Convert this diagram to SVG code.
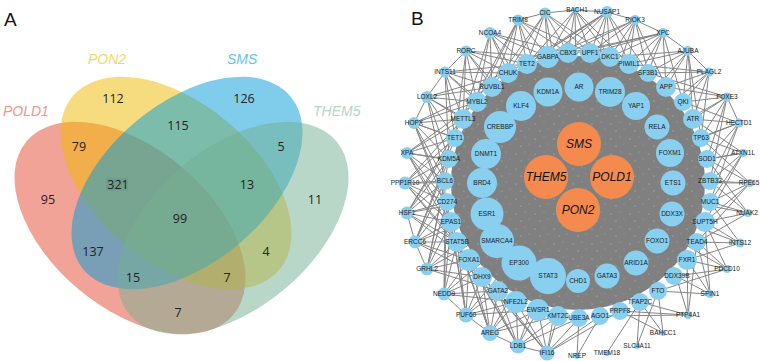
<svg xmlns="http://www.w3.org/2000/svg" width="760" height="361" viewBox="0 0 760 361">
<style>
.pl{font-family:"Liberation Sans",Arial,sans-serif;font-size:19px;fill:#111}
.vl{font-family:"Liberation Sans",Arial,sans-serif;font-size:14px;font-style:italic}
.num{font-family:"Open Sans","Liberation Sans",sans-serif;font-size:12.5px;fill:#222;text-anchor:middle}
.b{fill:#89CFF0}
.o{fill:#F58A4F}
.t{font-family:"Liberation Sans",Arial,sans-serif;font-size:6.5px;fill:#1a1a1a;text-anchor:middle}
.ot{font-family:"Liberation Sans",Arial,sans-serif;font-size:12px;font-style:italic;fill:#111;text-anchor:middle}
.e{stroke:#858585;stroke-width:1;fill:none}
</style>
<defs>
<pattern id="spk" width="19" height="15" patternUnits="userSpaceOnUse">
<rect width="19" height="15" fill="#808080"/>
<circle cx="3" cy="4" r="0.5" fill="#fff" opacity="0.6"/>
<circle cx="12" cy="2" r="0.45" fill="#fff" opacity="0.5"/>
<circle cx="8" cy="11" r="0.5" fill="#fff" opacity="0.6"/>
<circle cx="16" cy="9" r="0.4" fill="#fff" opacity="0.5"/>
</pattern>
</defs>
<rect width="760" height="361" fill="#fff"/>

<!-- Panel A -->
<text class="pl" x="4" y="26">A</text>
<g id="venn">
<ellipse id="set-POLD1" cx="130" cy="228" rx="135" ry="80" transform="rotate(40 130 228)" fill="#E5472F" fill-opacity="0.5"/>
<ellipse id="set-PON2" cx="176" cy="183" rx="135" ry="80" transform="rotate(40 176 183)" fill="#EFBA00" fill-opacity="0.5"/>
<ellipse id="set-SMS" cx="187" cy="183" rx="135" ry="80" transform="rotate(-40 187 183)" fill="#009BD7" fill-opacity="0.5"/>
<ellipse id="set-THEM5" cx="233" cy="228" rx="135" ry="80" transform="rotate(-40 233 228)" fill="#73AF91" fill-opacity="0.5"/>
<rect x="106" y="178" width="22" height="13" fill="#6A968A" opacity="0.6"/>
</g>
<text class="vl" x="3" y="116" fill="#F1958B">POLD1</text>
<text class="vl" x="88" y="64" fill="#F6D66A">PON2</text>
<text class="vl" x="227" y="64" fill="#5EC4EA">SMS</text>
<text class="vl" x="313" y="116" fill="#B5D6C8">THEM5</text>
<g id="venn-counts">
<text class="num" x="113" y="103">112</text>
<text class="num" x="244" y="103">126</text>
<text class="num" x="178" y="130">115</text>
<text class="num" x="79" y="151">79</text>
<text class="num" x="281" y="151">5</text>
<text class="num" x="118" y="189">321</text>
<text class="num" x="247" y="189">13</text>
<text class="num" x="48" y="204">95</text>
<text class="num" x="315" y="204">11</text>
<text class="num" x="180" y="223">99</text>
<text class="num" x="93" y="256">137</text>
<text class="num" x="266" y="256">4</text>
<text class="num" x="133" y="282">15</text>
<text class="num" x="227" y="282">7</text>
<text class="num" x="178" y="317">7</text>
</g>

<!-- Panel B -->
<text class="pl" x="411" y="25">B</text>
<g id="connectors">
<path class="e" d="M518 20L508 73M518 20L527 64M518 20L548 57M518 20L492 87M518 20L568 53M518 20L590 53M518 20L477 102M518 20L545 13M518 20L578 182M518 20L463 119"/>
<path class="e" d="M545 13L548 57M545 13L568 53M545 13L527 64M545 13L590 53M545 13L610 57M545 13L508 73M545 13L575 10M545 13L578 182M545 13L492 87"/>
<path class="e" d="M575 10L568 53M575 10L548 57M575 10L610 57M575 10L590 53M575 10L629 64M575 10L607 12M575 10L527 64M575 10L578 182"/>
<path class="e" d="M607 12L590 53M607 12L610 57M607 12L629 64M607 12L568 53M607 12L548 57M607 12L527 64M607 12L648 73M607 12L508 73M607 12L635 20M607 12L578 182M607 12L492 87"/>
<path class="e" d="M635 20L610 57M635 20L629 64M635 20L648 73M635 20L666 87M635 20L590 53M635 20L568 53M635 20L663 33M635 20L578 182M635 20L548 57"/>
<path class="e" d="M663 33L629 64M663 33L648 73M663 33L666 87M663 33L683 102M663 33L610 57M663 33L590 53M663 33L548 57M663 33L688 51M663 33L578 182M663 33L527 64"/>
<path class="e" d="M688 51L648 73M688 51L666 87M688 51L683 102M688 51L693 119M688 51L629 64M688 51L610 57M688 51L709 72M688 51L578 182M688 51L701 138"/>
<path class="e" d="M709 72L666 87M709 72L683 102M709 72L693 119M709 72L648 73M709 72L701 138M709 72L578 182M709 72L629 64"/>
<path class="e" d="M727 97L683 102M727 97L693 119M727 97L701 138M727 97L707 159M727 97L666 87M727 97L710 181M727 97L739 123M727 97L578 182M727 97L648 73"/>
<path class="e" d="M739 123L693 119M739 123L701 138M739 123L707 159M739 123L710 181M739 123L683 102M739 123L710 202M739 123L578 182"/>
<path class="e" d="M743 153L701 138M743 153L707 159M743 153L710 181M743 153L710 202M743 153L693 119M743 153L705 222M743 153L578 182"/>
<path class="e" d="M750 183L707 159M750 183L710 181M750 183L710 202M750 183L705 222M750 183L701 138M750 183L697 242M750 183L578 182"/>
<path class="e" d="M748 213L710 181M748 213L710 202M748 213L705 222M748 213L697 242M748 213L707 159M748 213L578 182"/>
<path class="e" d="M740 243L705 222M740 243L697 242M740 243L687 260M740 243L710 202M740 243L578 182"/>
<path class="e" d="M727 269L687 260M727 269L676 276M727 269L697 242M727 269L658 291M727 269L705 222M727 269L578 182"/>
<path class="e" d="M710 294L687 260M710 294L676 276M710 294L658 291M710 294L697 242M710 294L705 222"/>
<path class="e" d="M688 315L687 260M688 315L676 276M688 315L640 302M688 315L620 311M688 315L600 316M688 315L697 242"/>
<path class="e" d="M663 333L640 302M663 333L658 291M663 333L620 311"/>
<path class="e" d="M637 346L640 302M637 346L658 291"/>
<path class="e" d="M607 353L640 302"/>
<path class="e" d="M577 356L579 318M577 356L600 316"/>
<path class="e" d="M547 353L558 316M547 353L579 318M547 353L600 316M547 353L538 310M547 353L516 302M547 353L498 291M547 353L482 277M547 353L518 346M547 353L578 182M547 353L620 311M547 353L469 260"/>
<path class="e" d="M518 346L538 310M518 346L516 302M518 346L498 291M518 346L558 316M518 346L482 277M518 346L469 260M518 346L579 318M518 346L490 333M518 346L578 182M518 346L457 242"/>
<path class="e" d="M490 333L498 291M490 333L516 302M490 333L482 277M490 333L469 260M490 333L538 310M490 333L457 242M490 333L466 315M490 333L578 182M490 333L558 316M490 333L451 222"/>
<path class="e" d="M466 315L482 277M466 315L469 260M466 315L498 291M466 315L457 242M466 315L451 222M466 315L516 302M466 315L444 294M466 315L578 182M466 315L538 310M466 315L447 202"/>
<path class="e" d="M444 294L469 260M444 294L457 242M444 294L451 222M444 294L482 277M444 294L447 202M444 294L498 291M444 294L578 182M444 294L516 302M444 294L445 181"/>
<path class="e" d="M427 269L457 242M427 269L451 222M427 269L469 260M427 269L447 202M427 269L445 181M427 269L482 277M427 269L415 242M427 269L578 182M427 269L498 291M427 269L449 159"/>
<path class="e" d="M415 242L451 222M415 242L447 202M415 242L457 242M415 242L445 181M415 242L469 260M415 242L449 159M415 242L407 213M415 242L578 182M415 242L482 277M415 242L455 138"/>
<path class="e" d="M407 213L447 202M407 213L445 181M407 213L451 222M407 213L449 159M407 213L457 242M407 213L455 138M407 213L469 260M407 213L578 182M407 213L463 119"/>
<path class="e" d="M405 183L445 181M405 183L449 159M405 183L447 202M405 183L455 138M405 183L451 222M405 183L463 119M405 183L457 242M405 183L578 182M405 183L469 260"/>
<path class="e" d="M407 153L449 159M407 153L455 138M407 153L445 181M407 153L463 119M407 153L447 202M407 153L477 102M407 153L578 182M407 153L451 222M407 153L457 242"/>
<path class="e" d="M414 123L455 138M414 123L463 119M414 123L449 159M414 123L477 102M414 123L445 181M414 123L492 87M414 123L578 182M414 123L447 202M414 123L451 222"/>
<path class="e" d="M427 97L463 119M427 97L477 102M427 97L455 138M427 97L492 87M427 97L449 159M427 97L508 73M427 97L414 123M427 97L578 182M427 97L445 181"/>
<path class="e" d="M445 72L477 102M445 72L492 87M445 72L463 119M445 72L508 73M445 72L455 138M445 72L527 64M445 72L427 97M445 72L578 182M445 72L449 159"/>
<path class="e" d="M466 51L492 87M466 51L508 73M466 51L477 102M466 51L527 64M466 51L463 119M466 51L445 72M466 51L578 182M466 51L548 57M466 51L455 138"/>
<path class="e" d="M490 33L508 73M490 33L527 64M490 33L492 87M490 33L548 57M490 33L477 102M490 33L568 53M490 33L578 182M490 33L463 119"/>
<circle id="edge-mass" cx="578" cy="183" r="127" fill="url(#spk)"/>
</g>

<!-- outer ring -->
<g id="n-TRIM8"><circle class="b" cx="518" cy="20" r="5.5"/><text class="t" x="518" y="22.3">TRIM8</text></g>
<g id="n-CIC"><circle class="b" cx="545" cy="13" r="5.5"/><text class="t" x="545" y="15.3">CIC</text></g>
<g id="n-BACH1"><circle class="b" cx="576" cy="10" r="3"/><text class="t" x="577" y="12">BACH1</text></g>
<g id="n-NUSAP1"><circle class="b" cx="607" cy="12" r="6"/><text class="t" x="607" y="14.3">NUSAP1</text></g>
<g id="n-RIOK3"><circle class="b" cx="635" cy="20" r="5"/><text class="t" x="635" y="22.3">RIOK3</text></g>
<g id="n-XPC"><circle class="b" cx="663" cy="33" r="5"/><text class="t" x="663" y="35.3">XPC</text></g>
<g id="n-AJUBA"><circle class="b" cx="688" cy="51" r="5"/><text class="t" x="688" y="53.3">AJUBA</text></g>
<g id="n-PLAGL2"><circle class="b" cx="709" cy="72" r="4.5"/><text class="t" x="709" y="74.3">PLAGL2</text></g>
<g id="n-FOXE3"><circle class="b" cx="727" cy="97" r="4.5"/><text class="t" x="727" y="99.3">FOXE3</text></g>
<g id="n-HECTD1"><circle class="b" cx="739" cy="123" r="4.5"/><text class="t" x="739" y="125.3">HECTD1</text></g>
<g id="n-ATXN1L"><circle class="b" cx="743" cy="153" r="4"/><text class="t" x="743" y="155.3">ATXN1L</text></g>
<g id="n-RPE65"><circle class="b" cx="750" cy="183" r="4"/><text class="t" x="749" y="185.3">RPE65</text></g>
<g id="n-NUAK2"><circle class="b" cx="748" cy="213" r="4"/><text class="t" x="747" y="215.3">NUAK2</text></g>
<g id="n-INTS12"><circle class="b" cx="740" cy="243" r="4.5"/><text class="t" x="740" y="245.3">INTS12</text></g>
<g id="n-PDCD10"><circle class="b" cx="727" cy="269" r="4"/><text class="t" x="727" y="271.3">PDCD10</text></g>
<g id="n-SPIN1"><circle class="b" cx="710" cy="294" r="4"/><text class="t" x="710" y="296.3">SPIN1</text></g>
<g id="n-PTP4A1"><circle class="b" cx="688" cy="315" r="4"/><text class="t" x="688" y="317.3">PTP4A1</text></g>
<g id="n-BAHCC1"><circle class="b" cx="663" cy="333" r="3"/><text class="t" x="663" y="335.3">BAHCC1</text></g>
<g id="n-SLC4A11"><circle class="b" cx="637" cy="346" r="3"/><text class="t" x="637" y="348.3">SLC4A11</text></g>
<g id="n-TMEM18"><circle class="b" cx="607" cy="353" r="3"/><text class="t" x="607" y="355.3">TMEM18</text></g>
<g id="n-NREP"><circle class="b" cx="577" cy="356" r="3"/><text class="t" x="577" y="358.3">NREP</text></g>
<g id="n-IFI16"><circle class="b" cx="547" cy="353" r="7.5"/><text class="t" x="547" y="355.3">IFI16</text></g>
<g id="n-LDB1"><circle class="b" cx="518" cy="346" r="7.5"/><text class="t" x="518" y="348.3">LDB1</text></g>
<g id="n-AREG"><circle class="b" cx="490" cy="333" r="8"/><text class="t" x="490" y="335.3">AREG</text></g>
<g id="n-PUF60"><circle class="b" cx="466" cy="315" r="7.5"/><text class="t" x="466" y="317.3">PUF60</text></g>
<g id="n-NEDD9"><circle class="b" cx="444" cy="294" r="6.5"/><text class="t" x="444" y="296.3">NEDD9</text></g>
<g id="n-GRHL2"><circle class="b" cx="427" cy="269" r="6.5"/><text class="t" x="427" y="271.3">GRHL2</text></g>
<g id="n-ERCC6"><circle class="b" cx="415" cy="242" r="6.5"/><text class="t" x="415" y="244.3">ERCC6</text></g>
<g id="n-HSF1"><circle class="b" cx="407" cy="213" r="6.5"/><text class="t" x="407" y="215.3">HSF1</text></g>
<g id="n-PPP1R10"><circle class="b" cx="405" cy="183" r="6.5"/><text class="t" x="405" y="185.3">PPP1R10</text></g>
<g id="n-XPA"><circle class="b" cx="407" cy="153" r="6"/><text class="t" x="407" y="155.3">XPA</text></g>
<g id="n-HOPX"><circle class="b" cx="414" cy="123" r="6"/><text class="t" x="414" y="125.3">HOPX</text></g>
<g id="n-LOXL2"><circle class="b" cx="427" cy="97" r="6"/><text class="t" x="427" y="99.3">LOXL2</text></g>
<g id="n-INTS11"><circle class="b" cx="445" cy="72" r="5.5"/><text class="t" x="445" y="74.3">INTS11</text></g>
<g id="n-RORC"><circle class="b" cx="466" cy="51" r="5.5"/><text class="t" x="466" y="53.3">RORC</text></g>
<g id="n-NCOA4"><circle class="b" cx="490" cy="33" r="6"/><text class="t" x="490" y="35.3">NCOA4</text></g>

<!-- middle ring -->
<g id="n-CHUK"><circle class="b" cx="508" cy="73" r="10"/><text class="t" x="508" y="75.3">CHUK</text></g>
<g id="n-TET2"><circle class="b" cx="527" cy="64" r="10"/><text class="t" x="527" y="66.3">TET2</text></g>
<g id="n-GABPA"><circle class="b" cx="548" cy="57" r="11"/><text class="t" x="548" y="59.3">GABPA</text></g>
<g id="n-CBX3"><circle class="b" cx="568" cy="53" r="10"/><text class="t" x="568" y="55.3">CBX3</text></g>
<g id="n-UPF1"><circle class="b" cx="590" cy="53" r="10"/><text class="t" x="590" y="55.3">UPF1</text></g>
<g id="n-DKC1"><circle class="b" cx="610" cy="57" r="10"/><text class="t" x="610" y="59.3">DKC1</text></g>
<g id="n-PIWIL1"><circle class="b" cx="629" cy="64" r="10"/><text class="t" x="629" y="66.3">PIWIL1</text></g>
<g id="n-SF3B1"><circle class="b" cx="648" cy="73" r="9"/><text class="t" x="648" y="75.3">SF3B1</text></g>
<g id="n-APP"><circle class="b" cx="666" cy="87" r="10"/><text class="t" x="666" y="89.3">APP</text></g>
<g id="n-QKI"><circle class="b" cx="683" cy="102" r="9"/><text class="t" x="683" y="104.3">QKI</text></g>
<g id="n-ATR"><circle class="b" cx="693" cy="119" r="10"/><text class="t" x="693" y="121.3">ATR</text></g>
<g id="n-TP63"><circle class="b" cx="701" cy="138" r="9"/><text class="t" x="701" y="140.3">TP63</text></g>
<g id="n-SOD1"><circle class="b" cx="707" cy="159" r="9"/><text class="t" x="707" y="161.3">SOD1</text></g>
<g id="n-ZBTB33"><circle class="b" cx="710" cy="181" r="9"/><text class="t" x="710" y="183.3">ZBTB33</text></g>
<g id="n-MUC1"><circle class="b" cx="710" cy="202" r="9"/><text class="t" x="710" y="204.3">MUC1</text></g>
<g id="n-SUPT5H"><circle class="b" cx="705" cy="222" r="10"/><text class="t" x="705" y="224.3">SUPT5H</text></g>
<g id="n-TEAD4"><circle class="b" cx="697" cy="242" r="9"/><text class="t" x="697" y="244.3">TEAD4</text></g>
<g id="n-FXR1"><circle class="b" cx="687" cy="260" r="10"/><text class="t" x="687" y="262.3">FXR1</text></g>
<g id="n-DDX39B"><circle class="b" cx="674" cy="276" r="9"/><text class="t" x="677" y="278.3">DDX39B</text></g>
<g id="n-FTO"><circle class="b" cx="658" cy="291" r="9"/><text class="t" x="658" y="293.3">FTO</text></g>
<g id="n-TFAP2C"><circle class="b" cx="640" cy="302" r="9"/><text class="t" x="640" y="304.3">TFAP2C</text></g>
<g id="n-PRPF8"><circle class="b" cx="620" cy="311" r="9"/><text class="t" x="620" y="313.3">PRPF8</text></g>
<g id="n-AGO1"><circle class="b" cx="600" cy="316" r="9"/><text class="t" x="600" y="318.3">AGO1</text></g>
<g id="n-UBE3A"><circle class="b" cx="579" cy="318" r="9"/><text class="t" x="579" y="320.3">UBE3A</text></g>
<g id="n-KMT2C"><circle class="b" cx="558" cy="316" r="10"/><text class="t" x="558" y="318.3">KMT2C</text></g>
<g id="n-EWSR1"><circle class="b" cx="538" cy="310" r="11"/><text class="t" x="538" y="312.3">EWSR1</text></g>
<g id="n-NFE2L2"><circle class="b" cx="516" cy="302" r="11"/><text class="t" x="516" y="304.3">NFE2L2</text></g>
<g id="n-GATA2"><circle class="b" cx="498" cy="291" r="10"/><text class="t" x="498" y="293.3">GATA2</text></g>
<g id="n-DHX9"><circle class="b" cx="482" cy="277" r="10"/><text class="t" x="482" y="279.3">DHX9</text></g>
<g id="n-FOXA1"><circle class="b" cx="469" cy="260" r="11"/><text class="t" x="469" y="262.3">FOXA1</text></g>
<g id="n-STAT5B"><circle class="b" cx="457" cy="242" r="10"/><text class="t" x="457" y="244.3">STAT5B</text></g>
<g id="n-EPAS1"><circle class="b" cx="451" cy="222" r="10"/><text class="t" x="451" y="224.3">EPAS1</text></g>
<g id="n-CD274"><circle class="b" cx="447" cy="202" r="9"/><text class="t" x="447" y="204.3">CD274</text></g>
<g id="n-BCL6"><circle class="b" cx="445" cy="181" r="9"/><text class="t" x="445" y="183.3">BCL6</text></g>
<g id="n-KDM5A"><circle class="b" cx="449" cy="159" r="9"/><text class="t" x="449" y="161.3">KDM5A</text></g>
<g id="n-TET1"><circle class="b" cx="455" cy="138" r="9"/><text class="t" x="455" y="140.3">TET1</text></g>
<g id="n-METTL3"><circle class="b" cx="463" cy="119" r="10"/><text class="t" x="463" y="121.3">METTL3</text></g>
<g id="n-MYBL2"><circle class="b" cx="477" cy="102" r="10"/><text class="t" x="477" y="104.3">MYBL2</text></g>
<g id="n-RUVBL1"><circle class="b" cx="492" cy="87" r="10"/><text class="t" x="492" y="89.3">RUVBL1</text></g>

<!-- inner ring -->
<g id="n-AR"><circle class="b" cx="579" cy="87" r="14.5"/><text class="t" x="579" y="89.3">AR</text></g>
<g id="n-KDM1A"><circle class="b" cx="548" cy="92" r="14.5"/><text class="t" x="548" y="94.3">KDM1A</text></g>
<g id="n-TRIM28"><circle class="b" cx="610" cy="92" r="15"/><text class="t" x="610" y="94.3">TRIM28</text></g>
<g id="n-KLF4"><circle class="b" cx="521" cy="106" r="15"/><text class="t" x="521" y="108.3">KLF4</text></g>
<g id="n-YAP1"><circle class="b" cx="636" cy="106" r="14"/><text class="t" x="636" y="108.3">YAP1</text></g>
<g id="n-CREBBP"><circle class="b" cx="500" cy="127" r="16"/><text class="t" x="500" y="129.3">CREBBP</text></g>
<g id="n-RELA"><circle class="b" cx="657" cy="127" r="12.5"/><text class="t" x="657" y="129.3">RELA</text></g>
<g id="n-DNMT1"><circle class="b" cx="486" cy="154" r="15"/><text class="t" x="486" y="156.3">DNMT1</text></g>
<g id="n-FOXM1"><circle class="b" cx="670" cy="153" r="14"/><text class="t" x="670" y="155.3">FOXM1</text></g>
<g id="n-BRD4"><circle class="b" cx="482" cy="183" r="15"/><text class="t" x="482" y="185.3">BRD4</text></g>
<g id="n-ETS1"><circle class="b" cx="673" cy="183" r="12.5"/><text class="t" x="673" y="185.3">ETS1</text></g>
<g id="n-ESR1"><circle class="b" cx="487" cy="214" r="16.5"/><text class="t" x="487" y="216.3">ESR1</text></g>
<g id="n-DDX3X"><circle class="b" cx="672" cy="214" r="12.5"/><text class="t" x="672" y="216.3">DDX3X</text></g>
<g id="n-SMARCA4"><circle class="b" cx="497" cy="241" r="17"/><text class="t" x="497" y="243.3">SMARCA4</text></g>
<g id="n-FOXO1"><circle class="b" cx="657" cy="241" r="12.5"/><text class="t" x="657" y="243.3">FOXO1</text></g>
<g id="n-EP300"><circle class="b" cx="519" cy="263" r="17.5"/><text class="t" x="519" y="265.3">EP300</text></g>
<g id="n-ARID1A"><circle class="b" cx="636" cy="263" r="12.5"/><text class="t" x="636" y="265.3">ARID1A</text></g>
<g id="n-STAT3"><circle class="b" cx="548" cy="276" r="18"/><text class="t" x="548" y="278.3">STAT3</text></g>
<g id="n-GATA3"><circle class="b" cx="607" cy="276" r="12.5"/><text class="t" x="607" y="278.3">GATA3</text></g>
<g id="n-CHD1"><circle class="b" cx="578" cy="281" r="12"/><text class="t" x="578" y="283.3">CHD1</text></g>

<!-- hub genes -->
<g id="n-SMS"><circle class="o" cx="579" cy="144" r="22"/><text class="ot" x="579" y="148.3">SMS</text></g>
<g id="n-THEM5"><circle class="o" cx="546" cy="177" r="22"/><text class="ot" x="546" y="181.3">THEM5</text></g>
<g id="n-POLD1"><circle class="o" cx="612" cy="177" r="22"/><text class="ot" x="612" y="181.3">POLD1</text></g>
<g id="n-PON2"><circle class="o" cx="578" cy="210" r="22"/><text class="ot" x="578" y="214.3">PON2</text></g>
</svg>
